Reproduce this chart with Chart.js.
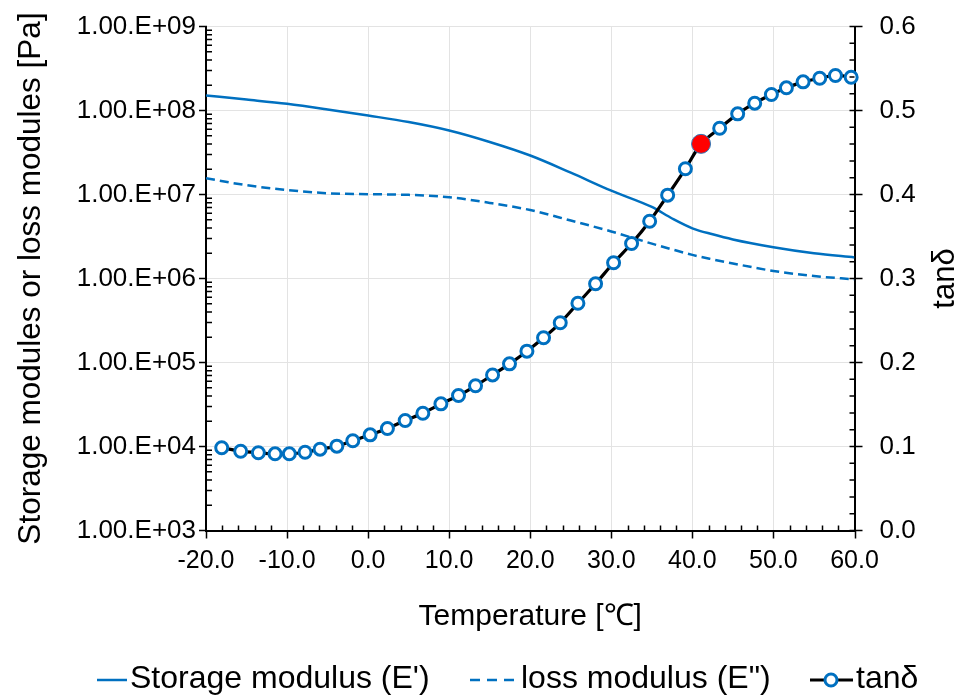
<!DOCTYPE html>
<html><head><meta charset="utf-8">
<script src="https://cdn.jsdelivr.net/npm/chart.js@4.4.1/dist/chart.umd.min.js"></script>
<style>html,body{margin:0;padding:0;background:#fff;overflow:hidden}#wrap{width:966px;height:698px}</style>
</head><body><div id="wrap"><canvas id="c" width="966" height="698"></canvas></div>
<script>
// ---- data ----
const modT = [-20, -15, -10, -5, 0, 5, 10, 15, 20, 25, 30, 35, 37.5, 40, 42.5, 45, 50, 55, 60];
const storageE = [1.51e8, 1.35e8, 1.20e8, 1.03e8, 8.71e7, 7.29e7, 5.78e7, 4.22e7, 2.91e7, 1.82e7, 1.11e7, 7.10e6, 5.18e6, 3.96e6, 3.36e6, 2.92e6, 2.36e6, 2.00e6, 1.78e6];
const lossE = [1.56e7, 1.29e7, 1.13e7, 1.035e7, 1.01e7, 9.9e6, 9.27e6, 7.94e6, 6.53e6, 4.90e6, 3.63e6, 2.60e6, 2.22e6, 1.91e6, 1.69e6, 1.51e6, 1.23e6, 1.07e6, 9.77e5];
const tanT = [-18.06, -15.72, -13.54, -11.48, -9.72, -7.78, -5.93, -3.86, -1.89, 0.25, 2.38, 4.57, 6.75, 8.98, 11.15, 13.25, 15.35, 17.44, 19.59, 21.64, 23.70, 25.88, 28.06, 30.28, 32.50, 34.73, 36.95, 39.14, 41.07, 43.37, 45.59, 47.69, 49.75, 51.60, 53.66, 55.71, 57.65, 59.59];
const tanD = [0.0985, 0.0944, 0.0925, 0.0913, 0.0913, 0.0932, 0.0968, 0.1004, 0.1068, 0.1139, 0.1214, 0.1310, 0.1396, 0.1508, 0.1607, 0.1723, 0.1852, 0.1984, 0.2135, 0.2294, 0.2473, 0.2706, 0.2937, 0.3187, 0.3417, 0.3682, 0.3992, 0.4306, 0.4603, 0.4789, 0.4960, 0.5087, 0.5190, 0.5270, 0.5341, 0.5384, 0.5417, 0.5396];
const peakT = [41.07];
const peakD = [0.4603];
const xTickValues = [-20, -10, 0, 10, 20, 30, 40, 50, 60];
const xTickLabels = ['-20.0', '-10.0', '0.0', '10.0', '20.0', '30.0', '40.0', '50.0', '60.0'];
const yTickValues = [1e3, 1e4, 1e5, 1e6, 1e7, 1e8, 1e9];
const yTickLabels = ['1.00.E+03', '1.00.E+04', '1.00.E+05', '1.00.E+06', '1.00.E+07', '1.00.E+08', '1.00.E+09'];
const y2TickValues = [0, 0.1, 0.2, 0.3, 0.4, 0.5, 0.6];
const y2TickLabels = ['0.0', '0.1', '0.2', '0.3', '0.4', '0.5', '0.6'];
const seriesNames = ["Storage modulus (E')", 'loss modulus (E")', 'tan\u03b4'];

const BLUE = '#0070C0';
const FONT = "'Liberation Sans', Arial, sans-serif";
Chart.defaults.font.family = FONT;
Chart.defaults.color = '#000';

const pts = (xs, ys) => xs.map((x, i) => ({x, y: ys[i]}));

const decor = {
  id: 'decor',
  afterDraw(chart) {
    const ctx = chart.ctx;
    const {x, y, y2} = chart.scales;
    const a = chart.chartArea;
    ctx.save();
    ctx.strokeStyle = '#000';
    ctx.lineWidth = 1.5;
    ctx.beginPath();
    // x ticks
    for (let v = -20; v <= 60; v += 2) {
      const px = Math.round(x.getPixelForValue(v)) + 0.5;
      if (v % 10 === 0) { ctx.moveTo(px, a.bottom); ctx.lineTo(px, a.bottom + 8); }
      else { ctx.moveTo(px, a.bottom); ctx.lineTo(px, a.bottom - 5); }
    }
    // left log ticks
    for (let e = 3; e <= 9; e++) {
      const py = y.getPixelForValue(Math.pow(10, e));
      ctx.moveTo(a.left - 7, py); ctx.lineTo(a.left + 1, py);
      if (e < 9) {
        for (let k = 2; k <= 9; k++) {
          const pm = y.getPixelForValue(k * Math.pow(10, e));
          ctx.moveTo(a.left, pm); ctx.lineTo(a.left + 6, pm);
        }
      }
    }
    // right ticks
    for (let i = 0; i <= 30; i++) {
      const v = i * 0.02;
      const py = y2.getPixelForValue(v);
      if (i % 5 === 0) { ctx.moveTo(a.right - 5, py); ctx.lineTo(a.right + 8, py); }
      else { ctx.moveTo(a.right - 5, py); ctx.lineTo(a.right, py); }
    }
    ctx.stroke();

    // right axis title (rotated, reading upwards)
    ctx.fillStyle = '#000';
    ctx.font = '31px ' + FONT;
    ctx.textAlign = 'center';
    ctx.textBaseline = 'middle';
    ctx.save();
    ctx.translate(945, (a.top + a.bottom) / 2);
    ctx.rotate(-Math.PI / 2);
    ctx.fillText(seriesNames[2], 0, 0);
    ctx.restore();

    // legend
    const ly = 680;
    ctx.font = '32px ' + FONT;
    ctx.textAlign = 'left';
    ctx.lineWidth = 2.5;
    ctx.strokeStyle = BLUE;
    ctx.beginPath(); ctx.moveTo(97, ly); ctx.lineTo(127, ly); ctx.stroke();
    ctx.fillText(seriesNames[0], 130, ly - 1);
    ctx.setLineDash([10, 7]);
    ctx.beginPath(); ctx.moveTo(470, ly); ctx.lineTo(517, ly); ctx.stroke();
    ctx.setLineDash([]);
    ctx.fillText(seriesNames[1], 521, ly - 1);
    ctx.strokeStyle = '#000'; ctx.lineWidth = 3;
    ctx.beginPath(); ctx.moveTo(810, ly); ctx.lineTo(853, ly); ctx.stroke();
    ctx.beginPath(); ctx.arc(831, ly, 6, 0, Math.PI * 2);
    ctx.fillStyle = '#fff'; ctx.fill();
    ctx.strokeStyle = BLUE; ctx.lineWidth = 3; ctx.stroke();
    ctx.fillStyle = '#000';
    ctx.fillText(seriesNames[2], 856, ly - 1);
    ctx.restore();
  }
};

new Chart(document.getElementById('c'), {
  type: 'line',
  data: {
    datasets: [
      { label: 'peak', data: pts(peakT, peakD), yAxisID: 'y2', showLine: false,
        pointRadius: 9.5, pointBackgroundColor: '#ff0000', pointBorderColor: '#2e75b6', pointBorderWidth: 1, clip: false },
      { label: seriesNames[2], data: pts(tanT, tanD), yAxisID: 'y2', borderColor: '#000', borderWidth: 3.2,
        tension: 0.3, pointRadius: 6, pointBackgroundColor: '#fff', pointBorderColor: BLUE, pointBorderWidth: 3, clip: false },
      { label: seriesNames[0], data: pts(modT, storageE), yAxisID: 'y', borderColor: BLUE, borderWidth: 2.5,
        cubicInterpolationMode: 'monotone', pointRadius: 0 },
      { label: seriesNames[1], data: pts(modT, lossE), yAxisID: 'y', borderColor: BLUE, borderWidth: 2.5,
        borderDash: [9, 5], cubicInterpolationMode: 'monotone', pointRadius: 0 }
    ]
  },
  options: {
    responsive: false, animation: false, events: [],
    layout: { padding: { top: 26.5, bottom: 48, left: 0, right: 0 } },
    plugins: { legend: { display: false }, tooltip: { enabled: false } },
    scales: {
      x: {
        type: 'linear', min: -20, max: 60,
        afterBuildTicks: s => { s.ticks = xTickValues.map(v => ({value: v})); },
        ticks: { callback: (v, i) => xTickLabels[i], font: { size: 25 }, color: '#000', padding: 16, maxRotation: 0, autoSkip: false },
        grid: { color: '#e3e3e3', lineWidth: 1, drawTicks: false },
        border: { color: '#000', width: 2 },
        title: { display: true, text: 'Temperature [\u2103]', font: { size: 30 }, color: '#000', padding: { top: 0, bottom: 15 } },
        afterFit: s => { s.height = 119.5; }
      },
      y: {
        type: 'logarithmic', position: 'left', min: 1e3, max: 1e9,
        afterBuildTicks: s => { s.ticks = yTickValues.map(v => ({value: v, major: true})); },
        ticks: { callback: (v, i) => yTickLabels[i], font: { size: 26 }, color: '#000', padding: 10, autoSkip: false },
        grid: { color: '#e3e3e3', lineWidth: 1, drawTicks: false },
        border: { color: '#000', width: 2 },
        title: { display: true, text: 'Storage modules or loss modules [Pa]', font: { size: 31.5 }, color: '#000', padding: { top: 12, bottom: 0 } },
        afterFit: s => { s.width = 206; }
      },
      y2: {
        type: 'linear', position: 'right', min: 0, max: 0.6,
        afterBuildTicks: s => { s.ticks = y2TickValues.map(v => ({value: v})); },
        ticks: { callback: (v, i) => y2TickLabels[i], font: { size: 26 }, color: '#000', padding: 10, autoSkip: false },
        grid: { drawOnChartArea: false, drawTicks: true, tickLength: 15, tickColor: 'rgba(0,0,0,0)' },
        border: { color: '#000', width: 2 },
        afterFit: s => { s.width = 111.5; }
      }
    }
  },
  plugins: [decor]
});
</script>
</body></html>
